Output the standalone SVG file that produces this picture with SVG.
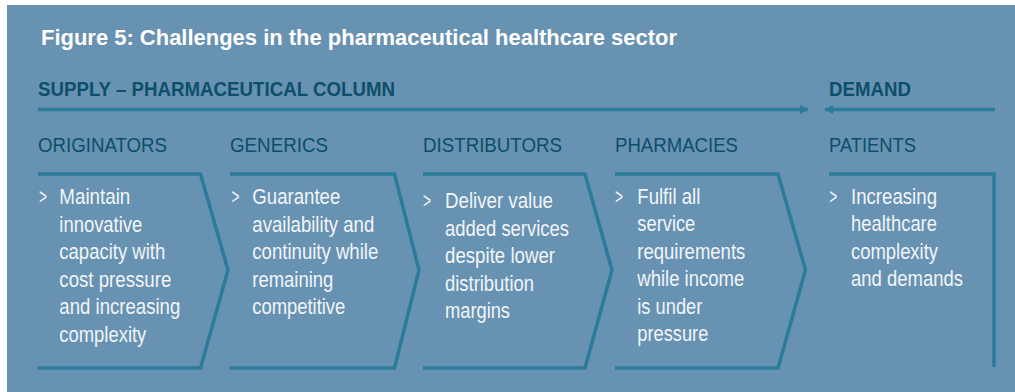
<svg xmlns="http://www.w3.org/2000/svg" width="1015" height="392" viewBox="0 0 1015 392">
  <style>
    .title { font-family: "Liberation Sans", Arial, sans-serif; font-weight: bold; font-size: 22px; fill: #ffffff; }
    .sec { font-family: "Liberation Sans", Arial, sans-serif; font-weight: bold; font-size: 20.5px; fill: #0c4f69; }
    .hdr { font-family: "Liberation Sans", Arial, sans-serif; font-size: 21px; fill: #0c4f69; }
    .body { font-family: "Liberation Sans", Arial, sans-serif; font-size: 21.5px; fill: #f1f5f8; }
    .shape { fill: none; stroke: #2b7c99; stroke-width: 3.5; stroke-linejoin: miter; }
    .conn { fill: none; stroke: #2b7c99; stroke-width: 3.5; }
  </style>
  <defs>
    <marker id="arrow" viewBox="0 0 10 10" refX="9" refY="5" markerUnits="userSpaceOnUse" markerWidth="11" markerHeight="9" orient="auto">
      <path d="M0,0 L10,5 L0,10 z" fill="#2b7c99"/>
    </marker>
  </defs>
  <rect x="0" y="0" width="1015" height="392" fill="#ffffff"/>
  <rect x="7" y="5" width="1008" height="387" fill="#6892b2"/>

  <g id="title">
    <text class="title" x="41" y="45" textLength="636" lengthAdjust="spacingAndGlyphs">Figure 5: Challenges in the pharmaceutical healthcare sector</text>
  </g>
  <g id="supply-header">
    <text class="sec" x="38" y="96" textLength="357" lengthAdjust="spacingAndGlyphs">SUPPLY – PHARMACEUTICAL COLUMN</text>
  </g>
  <g id="demand-header">
    <text class="sec" x="829" y="96" textLength="82" lengthAdjust="spacingAndGlyphs">DEMAND</text>
  </g>

  <g id="connectors">
    <line class="conn" x1="38" y1="109.5" x2="808" y2="109.5" marker-end="url(#arrow)"/>
    <line class="conn" x1="995" y1="109.5" x2="825" y2="109.5" marker-end="url(#arrow)"/>
  </g>

  <g id="originators">
    <text class="hdr" x="38" y="152" textLength="129" lengthAdjust="spacingAndGlyphs">ORIGINATORS</text>
    <path class="shape" d="M38,174 H200.5 L228,270 L200.5,368 H38"/>
    <text class="body" x="39" y="204" textLength="8" lengthAdjust="spacingAndGlyphs">&gt;</text>
    <text class="body" x="59.3" y="204" textLength="71" lengthAdjust="spacingAndGlyphs">Maintain</text>
    <text class="body" x="59.3" y="231.5" textLength="83" lengthAdjust="spacingAndGlyphs">innovative</text>
    <text class="body" x="59.3" y="259" textLength="106" lengthAdjust="spacingAndGlyphs">capacity with</text>
    <text class="body" x="59.3" y="286.5" textLength="112" lengthAdjust="spacingAndGlyphs">cost pressure</text>
    <text class="body" x="59.3" y="314" textLength="121" lengthAdjust="spacingAndGlyphs">and increasing</text>
    <text class="body" x="59.3" y="341.5" textLength="87" lengthAdjust="spacingAndGlyphs">complexity</text>
  </g>

  <g id="generics">
    <text class="hdr" x="230" y="152" textLength="98" lengthAdjust="spacingAndGlyphs">GENERICS</text>
    <path class="shape" d="M230,174 H394.5 L419,270 L394.5,368 H230"/>
    <text class="body" x="231.5" y="204" textLength="8" lengthAdjust="spacingAndGlyphs">&gt;</text>
    <text class="body" x="252.3" y="204" textLength="88" lengthAdjust="spacingAndGlyphs">Guarantee</text>
    <text class="body" x="252.3" y="231.5" textLength="122" lengthAdjust="spacingAndGlyphs">availability and</text>
    <text class="body" x="252.3" y="259" textLength="126" lengthAdjust="spacingAndGlyphs">continuity while</text>
    <text class="body" x="252.3" y="286.5" textLength="81" lengthAdjust="spacingAndGlyphs">remaining</text>
    <text class="body" x="252.3" y="314" textLength="93" lengthAdjust="spacingAndGlyphs">competitive</text>
  </g>

  <g id="distributors">
    <text class="hdr" x="423" y="152" textLength="139" lengthAdjust="spacingAndGlyphs">DISTRIBUTORS</text>
    <path class="shape" d="M423,174 H585 L612,270 L585,368 H423"/>
    <text class="body" x="423" y="208" textLength="8" lengthAdjust="spacingAndGlyphs">&gt;</text>
    <text class="body" x="445" y="208" textLength="108" lengthAdjust="spacingAndGlyphs">Deliver value</text>
    <text class="body" x="445" y="235.5" textLength="124" lengthAdjust="spacingAndGlyphs">added services</text>
    <text class="body" x="445" y="263" textLength="110" lengthAdjust="spacingAndGlyphs">despite lower</text>
    <text class="body" x="445" y="290.5" textLength="89" lengthAdjust="spacingAndGlyphs">distribution</text>
    <text class="body" x="445" y="318" textLength="65" lengthAdjust="spacingAndGlyphs">margins</text>
  </g>

  <g id="pharmacies">
    <text class="hdr" x="615" y="152" textLength="123" lengthAdjust="spacingAndGlyphs">PHARMACIES</text>
    <path class="shape" d="M615,174 H778 L805.5,270 L778,368 H615"/>
    <text class="body" x="615" y="203.5" textLength="8" lengthAdjust="spacingAndGlyphs">&gt;</text>
    <text class="body" x="637.3" y="203.5" textLength="63" lengthAdjust="spacingAndGlyphs">Fulfil all</text>
    <text class="body" x="637.3" y="231" textLength="58" lengthAdjust="spacingAndGlyphs">service</text>
    <text class="body" x="637.3" y="258.5" textLength="108" lengthAdjust="spacingAndGlyphs">requirements</text>
    <text class="body" x="637.3" y="286" textLength="107" lengthAdjust="spacingAndGlyphs">while income</text>
    <text class="body" x="637.3" y="313.5" textLength="65" lengthAdjust="spacingAndGlyphs">is under</text>
    <text class="body" x="637.3" y="341" textLength="71" lengthAdjust="spacingAndGlyphs">pressure</text>
  </g>

  <g id="patients">
    <text class="hdr" x="829" y="152" textLength="87" lengthAdjust="spacingAndGlyphs">PATIENTS</text>
    <path class="shape" d="M829,174 H994 V367"/>
    <text class="body" x="829.3" y="203.5" textLength="8" lengthAdjust="spacingAndGlyphs">&gt;</text>
    <text class="body" x="851" y="203.5" textLength="86" lengthAdjust="spacingAndGlyphs">Increasing</text>
    <text class="body" x="851" y="231" textLength="86" lengthAdjust="spacingAndGlyphs">healthcare</text>
    <text class="body" x="851" y="258.5" textLength="87" lengthAdjust="spacingAndGlyphs">complexity</text>
    <text class="body" x="851" y="286" textLength="112" lengthAdjust="spacingAndGlyphs">and demands</text>
  </g>
</svg>
